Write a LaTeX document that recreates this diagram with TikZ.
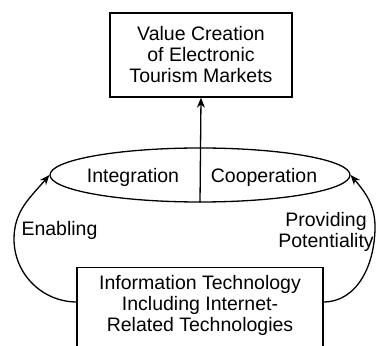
\documentclass[tikz,border=0pt]{standalone}
\usepackage{fontspec}
\setmainfont{Liberation Sans}
\usetikzlibrary{shapes.geometric,arrows.meta}
\begin{document}
\begin{tikzpicture}[x=1pt,y=1pt,
  every node/.style={font=\fontsize{19.5}{21}\selectfont},
  box/.style={draw,line width=1.4pt,align=center,inner sep=0pt},
  link/.style={line width=1.3pt,-{Stealth[length=10pt,width=8pt]}}]
\useasboundingbox (0,0) rectangle (377,345);
\clip (0,0) rectangle (377,345);
\fill[white] (0,0) rectangle (377,345);
% value creation box
\node[box,minimum width=182pt,minimum height=84pt] (value) at (201,290)
  {Value Creation\\of Electronic\\Tourism Markets};
% integration / cooperation ellipse
\node[draw,ellipse,line width=1.3pt,minimum width=300pt,minimum height=54pt,inner sep=0pt] (ell) at (200,170) {};
\node (integ) at (133,168) {Integration};
\node (coop) at (264,168) {Cooperation};
% information technology box (runs off the bottom)
\node[box,minimum width=246pt,minimum height=110pt,anchor=north] (it) at (200,78) {};
\node[align=center] (ittext) at (200,40)
  {Information Technology\\Including Internet-\\Related Technologies};
% central arrow
\draw[link] (ell.south) -- (value.south);
% side arcs
\coordinate (itl) at (77,43);
\coordinate (itr) at (323,43);
\draw[link] (itl) to[out=180,in=-90] (14,106) to[out=90,in=-130] (ell.west);
\draw[link] (itr) to[out=0,in=-90] (375,118) to[out=90,in=-50] (ell.east);
% labels
\node[anchor=west] (enab) at (18,115) {Enabling};
\node[align=center] (prov) at (326,113) {Providing\\Potentiality};
\end{tikzpicture}
\end{document}
